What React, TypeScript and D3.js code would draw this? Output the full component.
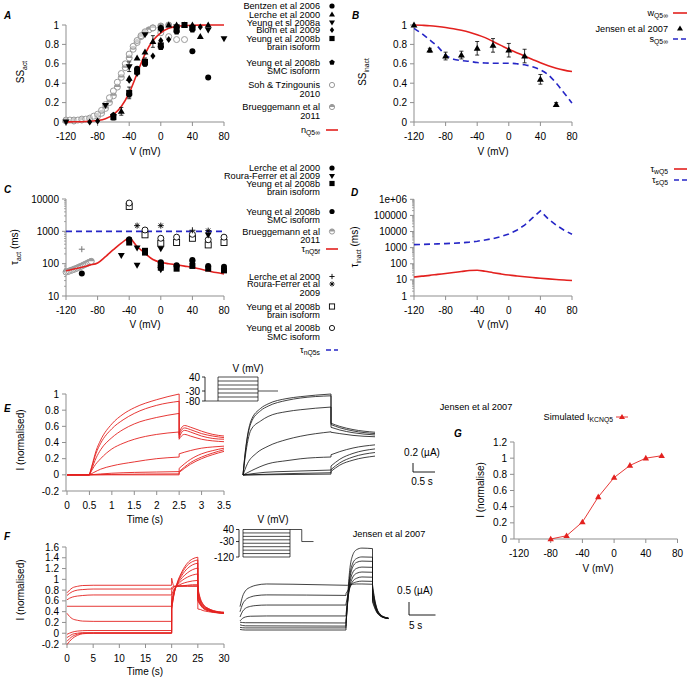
import React from 'react';
import * as d3 from 'd3';

const FONT = "'Liberation Sans', Arial, Helvetica, sans-serif";
const RED = '#e3211f';
const BLUE = '#2626c6';
const GREY = '#9a9a9a';
const AX = '#8f8f8f';

// ===== shared ticks =====
const vTicks = [-120, -80, -40, 0, 40, 80];
const ssTicks = [0, 0.2, 0.4, 0.6, 0.8, 1];
const tauActTicks = [10, 100, 1000, 10000];
const tauInactTicks = [1, 10, 100, 1000, 10000, 100000, 1000000];
const tauInactLabels = ['1', '10', '100', '1000', '10000', '100000', '1e+06'];
const eTimeTicks = [0, 0.5, 1, 1.5, 2, 2.5, 3, 3.5];
const eITicks = [-0.2, 0, 0.2, 0.4, 0.6, 0.8, 1];
const fTimeTicks = [0, 5, 10, 15, 20, 25, 30];
const fITicks = [-0.2, 0, 0.2, 0.4, 0.6, 0.8, 1, 1.2, 1.4, 1.6];
const gITicks = [0, 0.2, 0.4, 0.6, 0.8, 1, 1.2];

// ===== model curves sampled every 10 mV =====
const curveV = [-120, -110, -100, -90, -80, -70, -60, -50, -40, -30, -20, -10, 0, 10, 20, 30, 40, 50, 60, 70, 80];
const aNinf = [0.001, 0.002, 0.003, 0.007, 0.015, 0.034, 0.076, 0.16, 0.3, 0.5, 0.7, 0.84, 0.92, 0.966, 0.985, 0.993, 0.997, 0.999, 1, 1, 1];
const bWinf = [1.0, 0.997, 0.993, 0.985, 0.975, 0.962, 0.945, 0.925, 0.9, 0.87, 0.83, 0.79, 0.75, 0.715, 0.68, 0.645, 0.61, 0.58, 0.555, 0.535, 0.52];
const bSinf = [0.966, 0.91, 0.846, 0.777, 0.69, 0.647, 0.634, 0.625, 0.613, 0.608, 0.606, 0.606, 0.606, 0.6, 0.59, 0.57, 0.538, 0.486, 0.4, 0.3, 0.195];
const cTauF = [60, 68, 77, 90, 105, 165, 270, 430, 610, 340, 210, 135, 110, 100, 92, 84, 77, 68, 60, 53, 48];
const cTauSV = [-120, 80];
const cTauS = [1000, 1000];
const dTauW = [15, 17, 19, 22, 25, 29, 33, 38, 40, 34, 28, 23.5, 20, 17.5, 15.5, 14, 12.6, 11.5, 10.6, 9.8, 9.1];
const dTauS = [1540, 1590, 1650, 1710, 1780, 1880, 2000, 2200, 2500, 3000, 3650, 4900, 7000, 12000, 25000, 70000, 190000, 60000, 25000, 12000, 6800];

// ===== Panel A experimental data [V, SS, err] =====
const aBentzen = [[-30, 0.55], [-20, 0.6], [0, 0.97], [20, 0.98], [40, 0.73], [60, 0.46]];
const aLerche = [[-50, 0.11, 0.04], [-40, 0.45], [-30, 0.66], [-20, 0.72], [-10, 0.83, 0.06], [0, 0.97], [10, 1.0], [20, 1.0], [30, 1.0], [40, 1.0], [50, 0.88], [60, 1.0]];
const aYeungA = [[-120, 0.0], [-70, 0.17], [-40, 0.57, 0.05], [-20, 0.9], [0, 0.95], [20, 0.98], [40, 0.97], [60, 0.95], [80, 0.86]];
const aBlom = [[-90, 0.0], [-80, 0.01], [-40, 0.43], [-30, 0.5], [-10, 0.68], [0, 0.84], [10, 0.85], [20, 0.95], [50, 0.98]];
const aYeungBrain = [[-60, 0.05, 0.03], [-40, 0.3, 0.06], [-30, 0.52], [-20, 0.62, 0.04], [0, 0.79, 0.04], [20, 0.95], [30, 1.0], [40, 0.97]];
const aYeungSMC = [[-60, 0.07], [-40, 0.28], [-20, 0.6], [0, 0.77], [20, 0.93], [40, 0.95]];
const aSoh = [[-120, 0.02], [-115, 0.02], [-110, 0.02], [-105, 0.02], [-100, 0.03], [-95, 0.03], [-90, 0.04], [-85, 0.06], [-80, 0.08], [-75, 0.12], [-70, 0.18], [-65, 0.25], [-60, 0.32], [-55, 0.41], [-50, 0.5], [-45, 0.6], [-40, 0.7], [-35, 0.78], [-30, 0.84], [-25, 0.89], [-20, 0.93], [-10, 0.97], [0, 0.92], [10, 0.88], [20, 0.85], [30, 0.85]];
const aBrueg = [[-120, 0.01], [-110, 0.01], [-100, 0.02], [-90, 0.03], [-80, 0.06], [-75, 0.09], [-70, 0.14], [-65, 0.2], [-60, 0.27], [-55, 0.36], [-50, 0.46], [-45, 0.56], [-40, 0.66], [-35, 0.75], [-30, 0.82], [-25, 0.88], [-20, 0.92], [-15, 0.95], [-10, 0.97], [0, 0.99], [10, 1.0]];

// ===== Panel B =====
const bJensen = [[-120, 1.0, 0], [-100, 0.74, 0.02], [-80, 0.68, 0.04], [-60, 0.69, 0.04], [-40, 0.76, 0.07], [-20, 0.79, 0.07], [0, 0.74, 0.07], [20, 0.68, 0.07], [40, 0.44, 0.05], [60, 0.18, 0.02]];

// ===== Panel C [V, tau] =====
const cLerche = [[-100, 50], [-40, 560], [0, 105], [20, 85], [40, 130]];
const cRoura = [[-50, 180], [-30, 90], [-30, 310], [0, 290], [0, 65], [60, 780]];
const cYeungBrain = [[-40, 450], [-20, 220], [-20, 250], [0, 90], [0, 75], [20, 70], [40, 85], [60, 70], [80, 62]];
const cYeungSMC = [[-40, 560], [0, 110], [20, 90], [40, 120], [60, 85], [80, 80]];
const cBrueg = [[-120, 55], [-118, 57], [-116, 59], [-114, 62], [-112, 64], [-110, 67], [-108, 70], [-106, 73], [-104, 77], [-102, 81], [-100, 85], [-98, 90], [-96, 95], [-94, 100], [-92, 106], [-90, 112], [-88, 118]];
const cLercheS = [[-100, 280], [40, 1080]];
const cRouraS = [[-30, 1500], [0, 1500], [60, 1050]];
const cYeungBrainS = [[-40, 5900], [-20, 780], [0, 430], [20, 450], [40, 610], [60, 380], [80, 450]];
const cYeungSMCS = [[-40, 7500], [-20, 1100], [0, 610], [20, 660], [40, 810], [60, 550], [80, 660]];

// ===== Panel E: simulated red traces [t(s), I norm] =====
const eRedAct = [
  [[0.5, 0], [0.55, 0.1], [0.65, 0.3], [0.75, 0.43], [1, 0.63], [1.25, 0.75], [1.5, 0.83], [2, 0.93], [2.5, 1.0]],
  [[0.5, 0], [0.55, 0.09], [0.65, 0.27], [0.75, 0.39], [1, 0.57], [1.25, 0.68], [1.5, 0.76], [2, 0.86], [2.5, 0.91]],
  [[0.5, 0], [0.55, 0.07], [0.65, 0.21], [0.75, 0.31], [1, 0.46], [1.25, 0.56], [1.5, 0.63], [2, 0.71], [2.5, 0.76]],
  [[0.5, 0], [0.6, 0.1], [0.75, 0.2], [1, 0.32], [1.25, 0.39], [1.5, 0.44], [2, 0.5], [2.5, 0.53]],
  [[0.5, 0], [0.6, 0.03], [0.75, 0.07], [1, 0.11], [1.5, 0.16], [2, 0.2], [2.5, 0.22]],
  [[0.5, 0], [1, 0.02], [1.5, 0.03], [2, 0.035], [2.5, 0.04]],
  [[0.5, 0], [1, 0.005], [2.5, 0.012]],
  [[0.5, 0], [2.5, 0.0]],
];
const eRedTail = [
  [[2.5, 0.51], [2.55, 0.58], [2.62, 0.61], [2.75, 0.59], [3, 0.54], [3.25, 0.5], [3.5, 0.48]],
  [[2.5, 0.49], [2.55, 0.55], [2.62, 0.58], [2.75, 0.56], [3, 0.51], [3.25, 0.48], [3.5, 0.46]],
  [[2.5, 0.46], [2.55, 0.52], [2.62, 0.55], [2.75, 0.53], [3, 0.48], [3.25, 0.45], [3.5, 0.44]],
  [[2.5, 0.44], [2.55, 0.48], [2.62, 0.5], [2.75, 0.48], [3, 0.44], [3.25, 0.42], [3.5, 0.41]],
  [[2.5, 0.26], [2.75, 0.3], [3, 0.33], [3.25, 0.345], [3.5, 0.355]],
  [[2.5, 0.08], [2.75, 0.19], [3, 0.26], [3.25, 0.3], [3.5, 0.33]],
  [[2.5, 0.04], [2.75, 0.15], [3, 0.22], [3.25, 0.27], [3.5, 0.31]],
  [[2.5, 0.03], [2.75, 0.13], [3, 0.2], [3.25, 0.25], [3.5, 0.29]],
];
// Panel E: recorded black traces [t(s) from step, I (uA)]
const eBlackAct = [
  [[0, 0], [0.05, 0.5], [0.18, 1.2], [0.4, 1.48], [0.57, 1.58], [1, 1.7], [1.3, 1.74], [2, 1.8]],
  [[0, 0], [0.05, 0.48], [0.18, 1.15], [0.4, 1.43], [0.57, 1.53], [1, 1.66], [1.3, 1.71], [2, 1.76]],
  [[0, 0], [0.05, 0.4], [0.18, 1.0], [0.4, 1.2], [0.57, 1.3], [1, 1.41], [1.3, 1.45], [2, 1.51]],
  [[0, 0], [0.1, 0.25], [0.3, 0.48], [0.57, 0.64], [1, 0.79], [1.3, 0.86], [2, 0.96]],
  [[0, 0], [0.2, 0.1], [0.57, 0.25], [1, 0.32], [1.3, 0.36], [2, 0.4]],
  [[0, 0], [0.5, 0.06], [1, 0.08], [2, 0.11]],
  [[0, 0], [1, 0.03], [2, 0.05]],
  [[0, 0], [2, 0.02]],
];
const eBlackTail = [
  [[2, 1.15], [2.2, 1.08], [2.5, 1.01], [3, 0.95]],
  [[2, 1.12], [2.2, 1.05], [2.5, 0.98], [3, 0.92]],
  [[2, 1.06], [2.2, 1.0], [2.5, 0.94], [3, 0.89]],
  [[2, 0.95], [2.2, 0.92], [2.5, 0.88], [3, 0.85]],
  [[2, 0.45], [2.2, 0.52], [2.5, 0.6], [3, 0.67]],
  [[2, 0.2], [2.2, 0.35], [2.5, 0.48], [3, 0.58]],
  [[2, 0.12], [2.2, 0.27], [2.5, 0.4], [3, 0.5]],
  [[2, 0.08], [2.2, 0.22], [2.5, 0.33], [3, 0.42]],
];
const eProtoLevels = [40, 20, 0, -20, -40, -60, -80];
const eProtoTicks = [40, -30, -80];

// ===== Panel F =====
const fRedPre = [
  [[0, 0.75], [0.5, 0.8], [1, 0.84], [2, 0.87], [3, 0.885], [5, 0.89], [20, 0.89]],
  [[0, 0.7], [0.5, 0.74], [1, 0.77], [2, 0.8], [3, 0.81], [5, 0.82], [20, 0.82]],
  [[0, 0.62], [0.5, 0.65], [1, 0.67], [2, 0.69], [3, 0.7], [5, 0.71], [20, 0.71]],
  [[0, 0.5], [20, 0.5]],
  [[0, 0.37], [0.5, 0.31], [1, 0.27], [2, 0.24], [3, 0.225], [5, 0.22], [20, 0.22]],
  [[0, -0.02], [1, 0.02], [2, 0.04], [4, 0.05], [20, 0.05]],
  [[0, -0.08], [0.5, -0.05], [1, -0.02], [2, 0.0], [3, 0.01], [5, 0.01], [20, 0.01]],
  [[0, -0.15], [0.5, -0.1], [1, -0.06], [2, -0.02], [3, 0.0], [5, 0.0], [20, 0.0]],
  [[0, -0.21], [0.5, -0.15], [1, -0.1], [2, -0.04], [3, -0.01], [5, 0.0], [20, 0.0]],
];
const fRedStep = [
  [[20, 1.02], [20.3, 0.9], [20.5, 0.87], [21, 0.87], [23, 0.87], [25, 0.87]],
  [[20, 0.85], [20.5, 0.87], [21, 0.88], [22, 0.88], [23, 0.88], [24, 0.88], [25, 0.88]],
  [[20, 0.8], [20.5, 0.86], [21, 0.87], [22, 0.88], [23, 0.89], [24, 0.9], [25, 0.9]],
  [[20, 0.7], [20.5, 0.83], [21, 0.87], [22, 0.92], [23, 0.95], [24, 0.97], [25, 0.98]],
  [[20, 0.6], [20.5, 0.8], [21, 0.88], [22, 0.98], [23, 1.04], [24, 1.08], [25, 1.1]],
  [[20, 0.55], [20.5, 0.78], [21, 0.89], [22, 1.03], [23, 1.12], [24, 1.18], [25, 1.21]],
  [[20, 0.5], [20.5, 0.76], [21, 0.9], [22, 1.08], [23, 1.2], [24, 1.27], [25, 1.3]],
  [[20, 0.45], [20.5, 0.75], [21, 0.91], [22, 1.12], [23, 1.26], [24, 1.33], [25, 1.36]],
  [[20, 0.45], [20.5, 0.75], [21, 0.92], [22, 1.15], [23, 1.3], [24, 1.38], [25, 1.41]],
];
const fRedTail = [
  [[25, 0.45], [25.5, 0.44], [26, 0.42], [27, 0.4], [28, 0.385], [30, 0.37]],
  [[25, 0.6], [25.5, 0.52], [26, 0.46], [27, 0.415], [28, 0.39], [30, 0.37]],
  [[25, 0.62], [25.5, 0.53], [26, 0.47], [27, 0.42], [28, 0.395], [30, 0.37]],
  [[25, 0.64], [25.5, 0.54], [26, 0.48], [27, 0.43], [28, 0.4], [30, 0.375]],
  [[25, 0.68], [25.5, 0.56], [26, 0.49], [27, 0.435], [28, 0.4], [30, 0.375]],
  [[25, 0.72], [25.5, 0.58], [26, 0.5], [27, 0.44], [28, 0.405], [30, 0.38]],
  [[25, 0.76], [25.5, 0.6], [26, 0.52], [27, 0.45], [28, 0.41], [30, 0.38]],
  [[25, 0.8], [25.5, 0.62], [26, 0.53], [27, 0.455], [28, 0.415], [30, 0.385]],
  [[25, 0.84], [25.5, 0.64], [26, 0.54], [27, 0.46], [28, 0.42], [30, 0.39]],
];
const fBlackPre = [
  [[0, 0.9], [0.5, 1.3], [1, 1.5], [2, 1.65], [3, 1.72], [5, 1.77], [10, 1.76], [20, 1.72]],
  [[0, 0.7], [0.5, 1.0], [1, 1.15], [2, 1.27], [3, 1.32], [5, 1.35], [20, 1.33]],
  [[0, 0.5], [0.5, 0.72], [1, 0.83], [2, 0.91], [3, 0.94], [5, 0.96], [20, 0.96]],
  [[0, 0.35], [0.5, 0.45], [1, 0.5], [2, 0.53], [5, 0.54], [20, 0.54]],
  [[0, 0.3], [1, 0.28], [20, 0.27]],
  [[0, 0.2], [1, 0.16], [20, 0.15]],
  [[0, 0.1], [1, 0.08], [20, 0.08]],
  [[0, 0.02], [1, 0.0], [20, 0.0]],
];
const fBlackStep = [
  [[20, 1.72], [20.3, 1.72], [20.7, 1.74], [21.2, 1.76], [22, 1.77], [23, 1.77], [25, 1.76]],
  [[20, 1.4], [20.3, 1.5], [20.7, 1.65], [21.2, 1.78], [22, 1.85], [23, 1.88], [25, 1.87]],
  [[20, 1.0], [20.3, 1.3], [20.7, 1.6], [21.2, 1.85], [22, 1.99], [23, 2.04], [25, 2.03]],
  [[20, 0.6], [20.3, 1.1], [20.7, 1.65], [21.2, 2.0], [22, 2.18], [23, 2.23], [25, 2.22]],
  [[20, 0.35], [20.3, 1.0], [20.7, 1.77], [21.2, 2.18], [22, 2.37], [23, 2.42], [25, 2.41]],
  [[20, 0.25], [20.3, 1.06], [20.7, 1.93], [21.2, 2.39], [22, 2.6], [23, 2.65], [25, 2.64]],
  [[20, 0.15], [20.3, 1.12], [20.7, 2.05], [21.2, 2.53], [22, 2.75], [23, 2.81], [25, 2.8]],
  [[20, 0.1], [20.3, 1.26], [20.7, 2.3], [21.2, 2.84], [22, 3.09], [23, 3.15], [25, 3.13]],
];
const fBlackTail = [
  [[25, 1.08], [25.4, 0.85], [25.8, 0.68], [26.5, 0.53], [27.2, 0.47], [28, 0.44]],
  [[25, 1.15], [25.4, 0.9], [25.8, 0.7], [26.5, 0.54], [27.2, 0.47], [28, 0.44]],
  [[25, 1.25], [25.4, 0.95], [25.8, 0.72], [26.5, 0.55], [27.2, 0.48], [28, 0.44]],
  [[25, 1.35], [25.4, 1.0], [25.8, 0.75], [26.5, 0.56], [27.2, 0.48], [28, 0.45]],
  [[25, 1.45], [25.4, 1.05], [25.8, 0.77], [26.5, 0.57], [27.2, 0.49], [28, 0.45]],
  [[25, 1.55], [25.4, 1.1], [25.8, 0.8], [26.5, 0.58], [27.2, 0.49], [28, 0.45]],
  [[25, 1.65], [25.4, 1.15], [25.8, 0.82], [26.5, 0.59], [27.2, 0.5], [28, 0.46]],
  [[25, 1.75], [25.4, 1.2], [25.8, 0.85], [26.5, 0.6], [27.2, 0.5], [28, 0.46]],
];
const fProtoLevels = [40, 20, 0, -20, -40, -60, -80, -100, -120];
const fProtoTicks = [40, -30, -120];

// ===== Panel G =====
const gV = [-80, -60, -40, -20, 0, 20, 40, 60];
const gI = [0, 0.04, 0.21, 0.52, 0.76, 0.91, 1.0, 1.03];

// ---------- helpers ----------
function sym(kind, x, y, r, key) {
  switch (kind) {
    case 'circle': return <circle key={key} cx={x} cy={y} r={r} fill="#000" />;
    case 'triUp': return <path key={key} d={`M${x},${y - r * 1.2}L${x + r * 1.15},${y + r * 0.8}L${x - r * 1.15},${y + r * 0.8}Z`} fill={kind === 'triUp' ? '#000' : '#000'} />;
    case 'triUpRed': return <path key={key} d={`M${x},${y - r * 1.2}L${x + r * 1.15},${y + r * 0.8}L${x - r * 1.15},${y + r * 0.8}Z`} fill={RED} />;
    case 'triDown': return <path key={key} d={`M${x},${y + r * 1.2}L${x + r * 1.15},${y - r * 0.8}L${x - r * 1.15},${y - r * 0.8}Z`} fill="#000" />;
    case 'diamond': return <path key={key} d={`M${x},${y - r * 1.15}L${x + r * 0.85},${y}L${x},${y + r * 1.15}L${x - r * 0.85},${y}Z`} fill="#000" />;
    case 'square': return <rect key={key} x={x - r} y={y - r} width={2 * r} height={2 * r} fill="#000" />;
    case 'pentagon': {
      const pts = d3.range(5).map((k) => { const a = -Math.PI / 2 + (k * 2 * Math.PI) / 5; return [x + r * 1.12 * Math.cos(a), y + r * 1.12 * Math.sin(a)]; });
      return <path key={key} d={'M' + pts.map((p) => p.join(',')).join('L') + 'Z'} fill="#000" />;
    }
    case 'openGrey': return <circle key={key} cx={x} cy={y} r={r} fill="#fff" fillOpacity={0.5} stroke={GREY} strokeWidth={1} />;
    case 'halfGrey': return (
      <g key={key}>
        <circle cx={x} cy={y} r={r} fill="#fff" stroke={GREY} strokeWidth={1} />
        <path d={`M${x - r},${y}A${r},${r} 0 0 1 ${x + r},${y}Z`} fill={GREY} />
      </g>
    );
    case 'plus': return (
      <g key={key} stroke="#000" strokeWidth={0.9}>
        <line x1={x - r} x2={x + r} y1={y} y2={y} /><line x1={x} x2={x} y1={y - r} y2={y + r} />
      </g>
    );
    case 'greyPlus': return (
      <g key={key} stroke="#777" strokeWidth={1}>
        <line x1={x - r} x2={x + r} y1={y} y2={y} /><line x1={x} x2={x} y1={y - r} y2={y + r} />
      </g>
    );
    case 'star': return (
      <g key={key} stroke="#000" strokeWidth={0.9}>
        {[0, 45, 90, 135].map((a) => { const c = Math.cos((a * Math.PI) / 180) * r, s = Math.sin((a * Math.PI) / 180) * r; return <line key={a} x1={x - c} x2={x + c} y1={y - s} y2={y + s} />; })}
      </g>
    );
    case 'openSquare': return <rect key={key} x={x - r} y={y - r} width={2 * r} height={2 * r} fill="#fff" stroke="#000" strokeWidth={0.9} />;
    case 'openCircle': return <circle key={key} cx={x} cy={y} r={r} fill="#fff" stroke="#000" strokeWidth={0.9} />;
    default: return null;
  }
}

function yAxis(x, scale, ticks, labels, minor) {
  const [r0, r1] = scale.range();
  return (
    <g>
      <line x1={x} x2={x} y1={r0} y2={r1} stroke={AX} strokeWidth={1} />
      {(minor || []).map((t, i) => <line key={'m' + i} x1={x - 2} x2={x} y1={scale(t)} y2={scale(t)} stroke={AX} strokeWidth={0.8} />)}
      {ticks.map((t, i) => (
        <g key={i}>
          <line x1={x - 4} x2={x} y1={scale(t)} y2={scale(t)} stroke={AX} strokeWidth={1} />
          <text x={x - 7} y={scale(t) + 3.5} textAnchor="end" fontSize={10}>{labels ? labels[i] : String(t)}</text>
        </g>
      ))}
    </g>
  );
}

function xAxis(y, scale, ticks, x0) {
  const [r0, r1] = scale.range();
  return (
    <g>
      <line x1={x0 != null ? x0 : r0} x2={r1} y1={y} y2={y} stroke={AX} strokeWidth={1} />
      {ticks.map((t, i) => (
        <g key={i}>
          <line x1={scale(t)} x2={scale(t)} y1={y} y2={y + 4} stroke={AX} strokeWidth={1} />
          <text x={scale(t)} y={y + 17.5} textAnchor="middle" fontSize={10}>{String(t)}</text>
        </g>
      ))}
    </g>
  );
}

function logMinor(lo, hi) {
  const out = [];
  for (let d = lo; d < hi; d *= 10) for (let k = 2; k <= 9; k++) out.push(d * k);
  return out;
}

function lineGen(xs, ys, curve) {
  return d3.line().x((d) => xs(d[0])).y((d) => ys(d[1])).curve(curve || d3.curveMonotoneX);
}

function legendBlock(entries, xr, xm, fs) {
  return entries.map((e, i) => (
    <g key={i}>
      {e.lines.map((l, j) => (
        <text key={j} x={xr} y={e.y + 3.2 + j * 8.6} textAnchor="end" fontSize={fs}>{l}</text>
      ))}
      {sym(e.kind, xm, e.y, 2.6, 'k')}
    </g>
  ));
}

const legendA = [
  { lines: ['Bentzen et al 2006'], y: 6, kind: 'circle' },
  { lines: ['Lerche et al 2000'], y: 14.5, kind: 'triUp' },
  { lines: ['Yeung et sl 2008a'], y: 22.5, kind: 'triDown' },
  { lines: ['Blom et al 2009'], y: 30, kind: 'diamond' },
  { lines: ['Yeung et al 2008b', 'brain isoform'], y: 38.5, kind: 'square' },
  { lines: ['Yeung et al 2008b', 'SMC isoform'], y: 62.5, kind: 'pentagon' },
  { lines: ['Soh & Tzingounis', '2010'], y: 85, kind: 'openGrey' },
  { lines: ['Brueggemann et al', '2011'], y: 107, kind: 'halfGrey' },
];
const legendC1 = [
  { lines: ['Lerche et al 2000'], y: 168, kind: 'circle' },
  { lines: ['Roura-Ferrer et al 2009'], y: 176, kind: 'triDown' },
  { lines: ['Yeung et al 2008b', 'brain isoform'], y: 183.5, kind: 'square' },
  { lines: ['Yeung et al 2008b', 'SMC isoform'], y: 211.5, kind: 'circle' },
  { lines: ['Brueggemann et al', '2011'], y: 231.5, kind: 'halfGrey' },
];
const legendC2 = [
  { lines: ['Lerche et al 2000'], y: 276.5, kind: 'plus' },
  { lines: ['Roura-Ferrer et al', '2009'], y: 284, kind: 'star' },
  { lines: ['Yeung et al 2008b', 'brain isoform'], y: 306.5, kind: 'openSquare' },
  { lines: ['Yeung et al 2008b', 'SMC isoform'], y: 328, kind: 'openCircle' },
];

export default function App() {
  // scales
  const xA = d3.scaleLinear().domain([-120, 80]).range([66, 224]);
  const yA = d3.scaleLinear().domain([0, 1]).range([122, 25]);
  const xB = d3.scaleLinear().domain([-120, 80]).range([414, 572]);
  const yB = d3.scaleLinear().domain([0, 1]).range([122, 25]);
  const yC = d3.scaleLog().domain([10, 10000]).range([296, 199]);
  const yD = d3.scaleLog().domain([1, 1000000]).range([296, 199.3]);
  const xE = d3.scaleLinear().domain([0, 3.5]).range([67, 224]);
  const yE = d3.scaleLinear().domain([-0.2, 1]).range([491, 394]);
  const xEb = d3.scaleLinear().domain([0, 3]).range([243, 375]);
  const yEb = d3.scaleLinear().domain([0, 1.8]).range([475, 394]);
  const xPE = d3.scaleLinear().domain([0, 3.5]).range([208, 278]);
  const yPE = d3.scaleLinear().domain([-80, 40]).range([401, 377]);
  const xF = d3.scaleLinear().domain([0, 30]).range([67, 224]);
  const yF = d3.scaleLinear().domain([-0.2, 1.6]).range([644, 547]);
  const xFb = d3.scaleLinear().domain([0, 30]).range([240, 399]);
  const yFb = d3.scaleLinear().domain([0, 3.2]).range([630, 546.8]);
  const xPF = d3.scaleLinear().domain([0, 30]).range([243, 313.5]);
  const yPF = d3.scaleLinear().domain([-120, 40]).range([557, 529.5]);
  const xG = d3.scaleLinear().domain([-120, 80]).range([519, 677.5]);
  const yG = d3.scaleLinear().domain([0, 1.2]).range([539, 442]);

  const lA = lineGen(xA, yA);
  const lB = lineGen(xB, yB);
  const lC = lineGen(xA, yC);
  const lD = lineGen(xB, yD);
  const lDlin = lineGen(xB, yD, d3.curveLinear);
  const lE = lineGen(xE, yE);
  const lEb = lineGen(xEb, yEb);
  const lF = lineGen(xF, yF);
  const lFb = lineGen(xFb, yFb);
  const lG = lineGen(xG, yG, d3.curveLinear);

  const pts = (arr, xs, ys, kind, pfx) => arr.map((d, i) => sym(kind, xs(d[0]), ys(d[1]), 3, pfx + i));
  const errs = (arr, xs, ys, pfx) => arr.filter((d) => d[2]).map((d, i) => {
    const x = xs(d[0]);
    const y0 = ys(d[1] - d[2]);
    const y1 = ys(d[1] + d[2]);
    return (
      <g key={pfx + i} stroke="#000" strokeWidth={0.8}>
        <line x1={x} x2={x} y1={y0} y2={y1} />
        <line x1={x - 2} x2={x + 2} y1={y0} y2={y0} />
        <line x1={x - 2} x2={x + 2} y1={y1} y2={y1} />
      </g>
    );
  });

  const zipC = (vs, ys) => d3.zip(vs, ys);

  const label = (x, y, t) => <text x={x} y={y} fontSize={10} fontWeight="bold" fontStyle="italic">{t}</text>;
  const sub = 6.8;

  return (
    <svg width={689} height={681} style={{ position: 'absolute', left: 0, top: 0, fontFamily: FONT }}>
      <rect width={689} height={681} fill="#fff" />

      {/* ================= Panel A ================= */}
      {label(4, 19, 'A')}
      {yAxis(66, yA, ssTicks)}
      {xAxis(122, xA, vTicks)}
      <text x={145} y={155} textAnchor="middle" fontSize={10}>V (mV)</text>
      <text transform="translate(24,72) rotate(-90)" textAnchor="middle" fontSize={10}>SS<tspan dy={3} fontSize={sub}>act</tspan></text>
      {pts(aBrueg, xA, yA, 'halfGrey', 'ab')}
      {pts(aSoh, xA, yA, 'openGrey', 'as')}
      <path d={lA(zipC(curveV, aNinf))} fill="none" stroke={RED} strokeWidth={1.6} />
      {errs(aLerche, xA, yA, 'el')}
      {errs(aYeungA, xA, yA, 'ey')}
      {errs(aYeungBrain, xA, yA, 'eb')}
      {pts(aBentzen, xA, yA, 'circle', 'a1')}
      {pts(aLerche, xA, yA, 'triUp', 'a2')}
      {pts(aYeungA, xA, yA, 'triDown', 'a3')}
      {pts(aBlom, xA, yA, 'diamond', 'a4')}
      {pts(aYeungBrain, xA, yA, 'square', 'a5')}
      {pts(aYeungSMC, xA, yA, 'pentagon', 'a6')}
      {legendBlock(legendA, 320, 332, 9.2)}
      <text x={320} y={133} textAnchor="end" fontSize={9.2}>n<tspan dy={2} fontSize={sub}>Q5∞</tspan></text>
      <line x1={326} x2={338} y1={130} y2={130} stroke={RED} strokeWidth={1.6} />

      {/* ================= Panel B ================= */}
      {label(352, 19, 'B')}
      {yAxis(414, yB, ssTicks)}
      {xAxis(122, xB, vTicks)}
      <text x={493} y={155} textAnchor="middle" fontSize={10}>V (mV)</text>
      <text transform="translate(366,72) rotate(-90)" textAnchor="middle" fontSize={10}>SS<tspan dy={3} fontSize={sub}>inact</tspan></text>
      <path d={lB(zipC(curveV, bWinf))} fill="none" stroke={RED} strokeWidth={1.6} />
      <path d={lB(zipC(curveV, bSinf))} fill="none" stroke={BLUE} strokeWidth={1.6} strokeDasharray="6,4" />
      {errs(bJensen, xB, yB, 'bj')}
      {pts(bJensen, xB, yB, 'triUp', 'bp')}
      <text x={668} y={15.5} textAnchor="end" fontSize={9.2}>w<tspan dy={2} fontSize={sub}>Q5∞</tspan></text>
      <line x1={673} x2={687} y1={13} y2={13} stroke={RED} strokeWidth={1.6} />
      <text x={668} y={31.5} textAnchor="end" fontSize={9.2}>Jensen et al 2007</text>
      {sym('triUp', 680, 28.5, 2.6, 'bl')}
      <text x={668} y={41.5} textAnchor="end" fontSize={9.2}>s<tspan dy={2} fontSize={sub}>Q5∞</tspan></text>
      <line x1={673} x2={687} y1={39} y2={39} stroke={BLUE} strokeWidth={1.6} strokeDasharray="5,3" />

      {/* ================= Panel C ================= */}
      {label(4, 193, 'C')}
      {yAxis(66, yC, tauActTicks, null, logMinor(10, 10000))}
      {xAxis(296, xA, vTicks)}
      <text x={145} y={328} textAnchor="middle" fontSize={10}>V (mV)</text>
      <text transform="translate(18,247) rotate(-90)" textAnchor="middle" fontSize={10}>τ<tspan dy={3} fontSize={sub}>act</tspan><tspan dy={-3}> (ms)</tspan></text>
      {pts(cBrueg, xA, yC, 'halfGrey', 'cb')}
      <path d={lC(zipC(cTauSV, cTauS))} fill="none" stroke={BLUE} strokeWidth={1.6} strokeDasharray="6,4" />
      <path d={lC(zipC(curveV, cTauF))} fill="none" stroke={RED} strokeWidth={1.6} />
      {pts(cYeungBrainS, xA, yC, 'openSquare', 'c7')}
      {pts(cYeungSMCS, xA, yC, 'openCircle', 'c8')}
      {pts(cLercheS.slice(0, 1), xA, yC, 'greyPlus', 'c5a')}
      {pts(cLercheS.slice(1), xA, yC, 'plus', 'c5b')}
      {pts(cRouraS, xA, yC, 'star', 'c6')}
      {pts(cLerche, xA, yC, 'circle', 'c1')}
      {pts(cRoura, xA, yC, 'triDown', 'c2')}
      {pts(cYeungBrain, xA, yC, 'square', 'c3')}
      {pts(cYeungSMC, xA, yC, 'circle', 'c4')}
      {legendBlock(legendC1, 320, 332, 9.2)}
      <text x={320} y={252} textAnchor="end" fontSize={9.2}>τ<tspan dy={2} fontSize={sub}>nQ5f</tspan></text>
      <line x1={326} x2={338} y1={249} y2={249} stroke={RED} strokeWidth={1.6} />
      {legendBlock(legendC2, 320, 332, 9.2)}
      <text x={320} y={353} textAnchor="end" fontSize={9.2}>τ<tspan dy={2} fontSize={sub}>nQ5s</tspan></text>
      <line x1={326} x2={338} y1={350} y2={350} stroke={BLUE} strokeWidth={1.6} strokeDasharray="5,3" />

      {/* ================= Panel D ================= */}
      {label(351, 196, 'D')}
      {yAxis(414, yD, tauInactTicks, tauInactLabels, logMinor(1, 1000000))}
      {xAxis(296, xB, vTicks)}
      <text x={493} y={328} textAnchor="middle" fontSize={10}>V (mV)</text>
      <text transform="translate(358,247) rotate(-90)" textAnchor="middle" fontSize={10}>τ<tspan dy={3} fontSize={sub}>inact</tspan><tspan dy={-3}> (ms)</tspan></text>
      <path d={lD(zipC(curveV, dTauW))} fill="none" stroke={RED} strokeWidth={1.6} />
      <path d={lDlin(zipC(curveV, dTauS))} fill="none" stroke={BLUE} strokeWidth={1.6} strokeDasharray="6,4" />
      <text x={668} y={172} textAnchor="end" fontSize={9.2}>τ<tspan dy={2} fontSize={sub}>wQ5</tspan></text>
      <line x1={674} x2={687} y1={169} y2={169} stroke={RED} strokeWidth={1.6} />
      <text x={668} y={183} textAnchor="end" fontSize={9.2}>τ<tspan dy={2} fontSize={sub}>sQ5</tspan></text>
      <line x1={674} x2={687} y1={180} y2={180} stroke={BLUE} strokeWidth={1.6} strokeDasharray="5,3" />

      {/* ================= Panel E ================= */}
      {label(4, 412, 'E')}
      {yAxis(66, yE, eITicks)}
      {xAxis(491, xE, eTimeTicks, 66)}
      <text x={145} y={523} textAnchor="middle" fontSize={10}>Time (s)</text>
      <text transform="translate(24,440) rotate(-90)" textAnchor="middle" fontSize={10}>I (normalised)</text>
      {eRedAct.map((tr, i) => {
        const tail = eRedTail[i];
        const end = tr[tr.length - 1];
        return (
          <g key={'er' + i} fill="none" stroke={RED} strokeWidth={0.9}>
            <path d={lE([[0, 0], [0.5, 0]])} />
            <path d={lE(tr)} />
            <line x1={xE(end[0])} x2={xE(tail[0][0])} y1={yE(end[1])} y2={yE(tail[0][1])} />
            <path d={lE(tail)} />
          </g>
        );
      })}
      {eBlackAct.map((tr, i) => {
        const tail = eBlackTail[i];
        const end = tr[tr.length - 1];
        return (
          <g key={'eb' + i} fill="none" stroke="#111" strokeWidth={0.8}>
            <path d={lEb(tr)} />
            <line x1={xEb(end[0])} x2={xEb(tail[0][0])} y1={yEb(end[1])} y2={yEb(tail[0][1])} />
            <path d={lEb(tail)} />
          </g>
        );
      })}
      {/* protocol E */}
      <text x={248} y={371.5} textAnchor="middle" fontSize={10}>V (mV)</text>
      <line x1={205} x2={205} y1={yPE(40)} y2={yPE(-80)} stroke="#000" strokeWidth={0.8} />
      {eProtoTicks.map((t) => (
        <g key={'pe' + t}>
          <line x1={202} x2={205} y1={yPE(t)} y2={yPE(t)} stroke="#000" strokeWidth={0.8} />
          <text x={200} y={yPE(t) + 3.5} textAnchor="end" fontSize={10}>{String(t)}</text>
        </g>
      ))}
      <g stroke="#000" strokeWidth={0.7} fill="none">
        <line x1={205} x2={xPE(0.5)} y1={yPE(-80)} y2={yPE(-80)} />
        {eProtoLevels.map((v) => <line key={v} x1={xPE(0.5)} x2={xPE(2.5)} y1={yPE(v)} y2={yPE(v)} />)}
        <line x1={xPE(0.5)} x2={xPE(0.5)} y1={yPE(-80)} y2={yPE(40)} />
        <line x1={xPE(2.5)} x2={xPE(2.5)} y1={yPE(-80)} y2={yPE(40)} />
        <line x1={xPE(2.5)} x2={xPE(3.5)} y1={yPE(-30)} y2={yPE(-30)} />
      </g>
      <text x={476} y={410} textAnchor="middle" fontSize={9.2}>Jensen et al 2007</text>
      <g stroke="#000" strokeWidth={0.9}>
        <line x1={413} x2={413} y1={472} y2={472 - (yEb(0) - yEb(0.2))} />
        <line x1={413} x2={413 + xEb(0.5) - xEb(0)} y1={472} y2={472} />
      </g>
      <text x={422} y={456} textAnchor="middle" fontSize={10}>0.2 (µA)</text>
      <text x={422} y={485} textAnchor="middle" fontSize={10}>0.5 s</text>

      {/* ================= Panel F ================= */}
      {label(4, 540, 'F')}
      {yAxis(66, yF, fITicks)}
      {xAxis(644, xF, fTimeTicks, 66)}
      <text x={145} y={675} textAnchor="middle" fontSize={10}>Time (s)</text>
      <text transform="translate(24,590) rotate(-90)" textAnchor="middle" fontSize={10}>I (normalised)</text>
      {fRedPre.map((tr, i) => {
        const st = fRedStep[i];
        const tl = fRedTail[i];
        const e1 = tr[tr.length - 1];
        const e2 = st[st.length - 1];
        return (
          <g key={'fr' + i} fill="none" stroke={RED} strokeWidth={0.9}>
            <path d={lF(tr)} />
            <line x1={xF(e1[0])} x2={xF(st[0][0])} y1={yF(e1[1])} y2={yF(st[0][1])} />
            <path d={lF(st)} />
            <line x1={xF(e2[0])} x2={xF(tl[0][0])} y1={yF(e2[1])} y2={yF(tl[0][1])} />
            <path d={lF(tl)} />
          </g>
        );
      })}
      {fBlackPre.map((tr, i) => {
        const st = fBlackStep[i];
        const tl = fBlackTail[i];
        const e1 = tr[tr.length - 1];
        const e2 = st[st.length - 1];
        return (
          <g key={'fb' + i} fill="none" stroke="#111" strokeWidth={0.8}>
            <path d={lFb(tr)} />
            <line x1={xFb(e1[0])} x2={xFb(st[0][0])} y1={yFb(e1[1])} y2={yFb(st[0][1])} />
            <path d={lFb(st)} />
            <line x1={xFb(e2[0])} x2={xFb(tl[0][0])} y1={yFb(e2[1])} y2={yFb(tl[0][1])} />
            <path d={lFb(tl)} />
          </g>
        );
      })}
      {/* protocol F */}
      <text x={273} y={522.5} textAnchor="middle" fontSize={10}>V (mV)</text>
      <line x1={239} x2={239} y1={yPF(40)} y2={yPF(-120)} stroke="#000" strokeWidth={0.8} />
      {fProtoTicks.map((t) => (
        <g key={'pf' + t}>
          <line x1={236} x2={239} y1={yPF(t)} y2={yPF(t)} stroke="#000" strokeWidth={0.8} />
          <text x={234} y={yPF(t) + 3.5} textAnchor="end" fontSize={10}>{String(t)}</text>
        </g>
      ))}
      <g stroke="#000" strokeWidth={0.7} fill="none">
        {fProtoLevels.map((v) => <line key={v} x1={xPF(0)} x2={xPF(20)} y1={yPF(v)} y2={yPF(v)} />)}
        <line x1={xPF(0)} x2={xPF(0)} y1={yPF(-120)} y2={yPF(40)} />
        <line x1={xPF(20)} x2={xPF(20)} y1={yPF(-120)} y2={yPF(40)} />
        <line x1={xPF(20)} x2={xPF(25)} y1={yPF(40)} y2={yPF(40)} />
        <line x1={xPF(25)} x2={xPF(25)} y1={yPF(40)} y2={yPF(-30)} />
        <line x1={xPF(25)} x2={xPF(30)} y1={yPF(-30)} y2={yPF(-30)} />
      </g>
      <text x={389} y={536.5} textAnchor="middle" fontSize={9.2}>Jensen et al 2007</text>
      <g stroke="#000" strokeWidth={0.9}>
        <line x1={409} x2={409} y1={615} y2={615 - (yFb(0) - yFb(0.5))} />
        <line x1={409} x2={409 + xFb(5) - xFb(0)} y1={615} y2={615} />
      </g>
      <text x={415} y={593.5} textAnchor="middle" fontSize={10}>0.5 (µA)</text>
      <text x={409} y={628.5} textAnchor="start" fontSize={10}>5 s</text>

      {/* ================= Panel G ================= */}
      {label(454, 437, 'G')}
      {yAxis(514, yG, gITicks)}
      {xAxis(539, xG, vTicks, 514)}
      <text x={598} y={571.5} textAnchor="middle" fontSize={10}>V (mV)</text>
      <text transform="translate(484,490) rotate(-90)" textAnchor="middle" fontSize={10}>I (normalise)</text>
      <path d={lG(zipC(gV, gI))} fill="none" stroke={RED} strokeWidth={0.9} />
      {zipC(gV, gI).map((d, i) => sym('triUpRed', xG(d[0]), yG(d[1]), 2.8, 'g' + i))}
      <text x={613} y={420} textAnchor="end" fontSize={9.2}>Simulated I<tspan dy={2} fontSize={sub}>KCNQ5</tspan></text>
      <line x1={616} x2={628} y1={417} y2={417} stroke={RED} strokeWidth={0.9} />
      {sym('triUpRed', 622, 417, 2.6, 'gl')}
    </svg>
  );
}
